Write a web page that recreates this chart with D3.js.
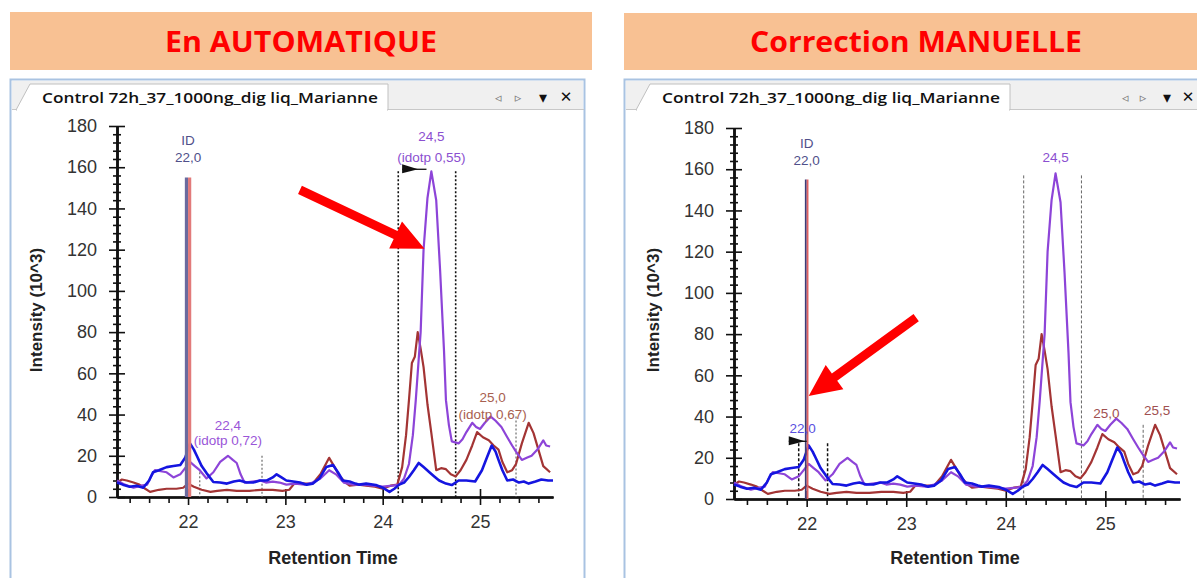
<!DOCTYPE html>
<meta charset="utf-8">
<style>
body { margin: 0; background: #fff; }
#chart { font-family: "Liberation Sans", Arial, sans-serif; }
</style>
<body>
<svg id="chart" width="1197" height="578"></svg>
<script src="https://d3js.org/d3.v7.min.js"></script>
<script>
// traces: [retention time, intensity (10^3)]
var blueTrace = [[21.27,7],[21.33,6],[21.40,5],[21.47,5.5],[21.54,4.5],[21.6,8],[21.64,12],[21.7,13],[21.78,14.5],[21.85,15],[21.92,15.5],[21.97,19],[22.02,26],[22.06,23],[22.09,20],[22.14,15],[22.19,11.6],[22.26,7.3],[22.33,7],[22.4,6.5],[22.47,7.5],[22.53,8],[22.6,7],[22.67,7],[22.74,8],[22.81,8],[22.87,9.5],[22.91,11],[22.96,9.5],[23.01,8],[23.08,7.5],[23.15,7],[23.22,6],[23.28,6.5],[23.35,9],[23.42,14.5],[23.49,15.5],[23.54,12],[23.59,8],[23.66,7.5],[23.72,6.5],[23.76,6],[23.83,6.5],[23.93,5.8],[24.0,4.5],[24.07,2.5],[24.12,4],[24.17,6],[24.22,7],[24.27,9.7],[24.32,13],[24.37,16.5],[24.42,14.5],[24.48,12],[24.53,10],[24.58,8],[24.65,6.5],[24.71,5.8],[24.78,8],[24.86,8],[24.95,7.5],[25.02,13],[25.07,19],[25.12,25],[25.16,22],[25.19,18],[25.23,13],[25.28,8],[25.34,8.5],[25.40,7],[25.45,7.5],[25.5,6.5],[25.57,7.5],[25.63,8.5],[25.7,8],[25.75,8]];
var purpleTrace = [[21.27,8],[21.35,6],[21.44,4.5],[21.52,5.5],[21.58,6],[21.62,10],[21.66,13],[21.72,12.5],[21.78,12],[21.85,9.5],[21.92,11],[21.97,14],[22.02,17],[22.07,15],[22.12,13],[22.19,9],[22.26,12],[22.33,17],[22.41,20],[22.46,18],[22.5,16.5],[22.54,11],[22.58,7],[22.66,7.5],[22.74,8],[22.8,7],[22.87,7.5],[22.94,7],[23.01,6],[23.1,6.5],[23.2,6],[23.28,7],[23.36,9],[23.45,13],[23.52,11],[23.6,7],[23.7,6],[23.8,6],[23.9,5.5],[24.0,5],[24.1,5.5],[24.17,6],[24.22,9],[24.27,16],[24.31,30],[24.34,47],[24.39,80],[24.42,120],[24.46,145],[24.5,158],[24.55,144],[24.59,110],[24.63,71],[24.65,47],[24.68,35],[24.71,27],[24.78,26],[24.82,28],[24.86,31.5],[24.92,36],[24.96,34],[25.0,33],[25.05,36],[25.11,39],[25.16,37],[25.22,34],[25.28,29],[25.33,25],[25.37,22],[25.43,18],[25.48,19],[25.53,20],[25.59,23],[25.65,27.5],[25.68,25],[25.72,24.5]];
var redTrace = [[21.27,7],[21.32,8.5],[21.37,8],[21.44,7],[21.5,6],[21.56,4],[21.61,2.5],[21.7,3.5],[21.78,4],[21.88,4],[21.95,4.5],[22.0,6.5],[22.06,5],[22.14,3.5],[22.23,2.5],[22.3,3],[22.4,3.5],[22.5,3],[22.63,3],[22.75,3.5],[22.87,3.5],[22.97,3],[23.04,3.5],[23.1,7],[23.2,6.5],[23.28,6.5],[23.36,11],[23.45,19],[23.5,15],[23.56,10],[23.62,7],[23.66,5.5],[23.75,6],[23.83,5.5],[23.92,5],[24.0,4],[24.08,5.5],[24.15,6],[24.2,14.5],[24.24,30],[24.27,47],[24.3,65],[24.33,68],[24.36,80],[24.39,72],[24.42,63],[24.46,45],[24.5,31],[24.55,13],[24.6,14],[24.65,13.5],[24.7,11],[24.75,10],[24.8,13],[24.86,18],[24.92,25],[24.97,31.5],[25.03,29],[25.09,27.5],[25.14,25],[25.19,23],[25.23,17],[25.28,12],[25.33,13],[25.37,16],[25.43,26],[25.5,36],[25.55,31],[25.6,23],[25.65,15],[25.72,12]];

var timeDomain = [21.27, 25.75];
var intensityDomain = [0, 180];
var xMajor = [22, 23, 24, 25];
var yMajor = [0, 20, 40, 60, 80, 100, 120, 140, 160, 180];

// identified peak (ID line) at 22.0, height
var idPeak = [22.0, 155];

// labels: [time, intensity, text]
var autoLabels = [
  [22.0, 173, "ID", "#50508a"], [22.0, 165, "22,0", "#50508a"],
  [24.5, 175, "24,5", "#8b4fd0"], [24.5, 165, "(idotp 0,55)", "#8b4fd0"],
  [22.41, 35, "22,4", "#9a55d8"], [22.41, 27.5, "(idotp 0,72)", "#9a55d8"],
  [25.13, 48.5, "25,0", "#a86050"], [25.13, 40.3, "(idotp 0,67)", "#a86050"]
];
var manualLabels = [
  [22.0, 172.7, "ID", "#50508a"], [22.0, 164.5, "22,0", "#50508a"],
  [24.5, 166, "24,5", "#8b4fd0"],
  [21.96, 34.5, "22,0", "#5a4fe0"],
  [25.01, 41.7, "25,0", "#a05050"],
  [25.52, 43, "25,5", "#a05050"]
];
// boundaries: [time, top intensity]
var autoBounds = [[24.16, 158], [24.75, 158], [22.12, 12], [22.76, 20], [25.37, 39]];
var manualBounds = [[24.18, 157], [24.76, 157], [21.92, 27], [22.21, 27], [25.38, 36]];
// peak flag: [time, intensity, peak time]
var autoFlag = [24.2, 159, 24.45];
var manualFlag = [21.82, 28, 22.0];
// red arrows: [start time, start int, tip time, tip int]
var autoArrow = [23.15, 149, 24.43, 120.5];
var manualArrow = [23.1, 88, 22.02, 50];

var svg = d3.select("#chart");

function arrowPoints(x1, y1, x2, y2, w, L, H) {
  var dx = x2 - x1, dy = y2 - y1, len = Math.sqrt(dx*dx + dy*dy);
  var ux = dx/len, uy = dy/len, nx = -uy, ny = ux;
  var bx = x2 - ux*L, by = y2 - uy*L;
  return [
    [x1 + nx*w/2, y1 + ny*w/2], [bx + nx*w/2, by + ny*w/2], [bx + nx*H/2, by + ny*H/2],
    [x2, y2], [bx - nx*H/2, by - ny*H/2], [bx - nx*w/2, by - ny*w/2], [x1 - nx*w/2, y1 - ny*w/2]
  ].map(function(p){ return p.join(","); }).join(" ");
}

function drawPanel(c) {
  var g = svg.append("g");
  // header
  g.append("rect").attr("x", c.box[0]).attr("y", c.box[1]).attr("width", c.box[2]).attr("height", c.box[3]).attr("fill", "#f8c193");
  g.append("text").attr("x", c.titleX).attr("y", 42).attr("dy", "0.36em").attr("text-anchor", "middle")
    .attr("fill", "#ff0000").attr("font-size", 28).attr("font-weight", "bold")
    .attr("font-family", "'Open Sans', sans-serif")
    .attr("textLength", c.titleLen).attr("lengthAdjust", "spacingAndGlyphs").text(c.title);
  // window frame
  g.append("rect").attr("x", c.frame[0] + 0.5).attr("y", 79.5).attr("width", c.frame[1]).attr("height", 520)
    .attr("fill", "#fff").attr("stroke", "#a9c3e2").attr("stroke-width", 2);
  g.append("rect").attr("x", c.frame[0] + 2).attr("y", 81).attr("width", c.frame[1] - 3).attr("height", 28).attr("fill", "#f0f0f0");
  g.append("line").attr("x1", c.frame[0] + 2).attr("x2", c.frame[0] + c.frame[1]).attr("y1", 109.5).attr("y2", 109.5).attr("stroke", "#c8c8c8");
  g.append("path").attr("d", "M" + (c.tab[0] - 14) + ",110 L" + c.tab[0] + ",84 L" + c.tab[1] + ",84 L" + c.tab[1] + ",110 Z")
    .attr("fill", "#fff").attr("stroke", "#c0c0c0");
  g.append("rect").attr("x", c.tab[0] - 13).attr("y", 109).attr("width", c.tab[1] - c.tab[0] + 12).attr("height", 3).attr("fill", "#fff");
  g.append("text").attr("x", c.tab[0] + 12).attr("y", 103).attr("font-size", 15).attr("fill", "#111")
    .attr("font-family", "'Open Sans', sans-serif").attr("font-weight", 600)
    .attr("textLength", c.tab[1] - c.tab[0] - 22).attr("lengthAdjust", "spacingAndGlyphs")
    .text("Control 72h_37_1000ng_dig liq_Marianne");
  var icons = [["\u25C3", "#777", 13], ["\u25B9", "#777", 13], ["\u25BE", "#111", 16], ["\u2715", "#111", 15]];
  icons.forEach(function(ic, i) {
    g.append("text").attr("x", c.iconX[i]).attr("y", 97).attr("dy", "0.36em").attr("text-anchor", "middle")
      .attr("font-family", "'DejaVu Sans', sans-serif").attr("fill", ic[1]).attr("font-size", ic[2]).text(ic[0]);
  });

  var x = d3.scaleLinear().domain(timeDomain).range([c.plot.left, c.plot.right]);
  var y = d3.scaleLinear().domain(intensityDomain).range([c.plot.bottom, c.plot.top]);

  // axes
  var minorX = d3.range(21.4, 25.75, 0.2).filter(function(v){ return Math.abs(v - Math.round(v)) > 0.05; });
  var minorY = d3.range(4, 180, 4).filter(function(v){ return v % 20 !== 0; });
  var ax = g.append("g").attr("transform", "translate(0," + c.plot.bottom + ")");
  ax.call(d3.axisBottom(x).tickValues(minorX).tickSize(6).tickFormat("").tickSizeOuter(0));
  ax.append("g").call(d3.axisTop(x).tickValues(xMajor).tickSize(8).tickFormat("").tickSizeOuter(0));
  ax.append("g").call(d3.axisBottom(x).tickValues(xMajor).tickSize(8).tickPadding(10).tickFormat(d3.format("d")).tickSizeOuter(0));
  var ay = g.append("g").attr("transform", "translate(" + c.plot.left + ",0)");
  ay.call(d3.axisLeft(y).tickValues(minorY).tickSize(4).tickFormat("").tickSizeOuter(0));
  ay.append("g").call(d3.axisRight(y).tickValues(minorY).tickSize(4).tickFormat("").tickSizeOuter(0));
  ay.append("g").call(d3.axisRight(y).tickValues(yMajor).tickSize(8).tickFormat("").tickSizeOuter(0));
  ay.append("g").call(d3.axisLeft(y).tickValues(yMajor).tickSize(8).tickPadding(12).tickSizeOuter(0));
  g.selectAll(".domain").attr("stroke", "#111").attr("stroke-width", 2);
  g.selectAll(".tick line").attr("stroke", "#111").attr("stroke-width", 1.6);
  g.selectAll(".tick text").attr("font-size", 18).attr("fill", "#333").attr("font-family", "'Liberation Sans', Arial, sans-serif");

  g.append("text").attr("transform", "translate(" + (c.plot.left - 81) + "," + 310 + ") rotate(-90)")
    .attr("text-anchor", "middle").attr("dy", "0.36em").attr("font-size", 17).attr("font-weight", "bold").attr("fill", "#222")
    .text("Intensity (10^3)");
  g.append("text").attr("x", (c.plot.left + c.plot.right) / 2 - 2).attr("y", 558).attr("dy", "0.36em")
    .attr("text-anchor", "middle").attr("font-size", 18).attr("font-weight", "bold").attr("fill", "#222")
    .text("Retention Time");

  // peak boundaries
  c.bounds.forEach(function(b, i) {
    var s = c.boundStyle(i);
    g.append("line").attr("x1", x(b[0])).attr("x2", x(b[0])).attr("y1", y(b[1])).attr("y2", y(0))
      .attr("stroke", s[0]).attr("stroke-width", s[1]).attr("stroke-dasharray", s[2]);
  });

  // traces
  var line = d3.line().x(function(d){ return x(d[0]); }).y(function(d){ return y(d[1]); });
  [[redTrace, "#a33434", 2.2], [purpleTrace, "#8d44d8", 2.2], [blueTrace, "#1515e0", 2.6]].forEach(function(t) {
    g.append("path").datum(t[0]).attr("d", line).attr("fill", "none").attr("stroke", t[1])
      .attr("stroke-width", t[2]).attr("stroke-linejoin", "round");
  });

  // ID line
  g.append("line").attr("x1", x(idPeak[0]) - c.idW / 2).attr("x2", x(idPeak[0]) - c.idW / 2)
    .attr("y1", y(idPeak[1])).attr("y2", y(0)).attr("stroke", c.idColors[0]).attr("stroke-width", c.idW);
  g.append("line").attr("x1", x(idPeak[0]) + c.idW / 2).attr("x2", x(idPeak[0]) + c.idW / 2)
    .attr("y1", y(idPeak[1])).attr("y2", y(0)).attr("stroke", c.idColors[1]).attr("stroke-width", c.idW);

  // flag
  var fx = x(c.flag[0]), fy = y(c.flag[1]);
  g.append("line").attr("x1", fx).attr("x2", x(c.flag[2])).attr("y1", fy).attr("y2", fy).attr("stroke", "#111").attr("stroke-width", 1.3);
  g.append("path").attr("d", "M" + fx + "," + (fy - 5) + " L" + (fx + 16) + "," + fy + " L" + fx + "," + (fy + 4) + " Z").attr("fill", "#111");

  // labels
  c.labels.forEach(function(l) {
    g.append("text").attr("x", x(l[0])).attr("y", y(l[1])).attr("dy", "0.36em").attr("text-anchor", "middle")
      .attr("font-size", 13.5).attr("fill", l[3]).text(l[2]);
  });

  // red arrow
  var a = c.arrow;
  g.append("polygon").attr("points", arrowPoints(x(a[0]), y(a[1]), x(a[2]), y(a[3]), 9, 32, 30)).attr("fill", "#ff0000");
}

drawPanel({
  title: "En AUTOMATIQUE", titleX: 301, titleLen: 272, box: [10, 12, 582, 58],
  frame: [10, 574], tab: [30, 388], iconX: [498, 518, 543, 566],
  plot: { left: 117, right: 553, top: 126, bottom: 497 },
  bounds: autoBounds,
  boundStyle: function(i){ return i < 2 ? ["#111", 1.6, "2,2"] : ["#777", 1.3, "2,2"]; },
  idW: 3.2, idColors: ["#6a6a9e", "#e27a7a"],
  flag: autoFlag, labels: autoLabels, arrow: autoArrow
});
drawPanel({
  title: "Correction MANUELLE", titleX: 916, titleLen: 332, box: [624, 13, 580, 57],
  frame: [624, 600], tab: [650, 1010], iconX: [1125, 1143, 1167, 1188],
  plot: { left: 734, right: 1180, top: 128, bottom: 499 },
  bounds: manualBounds,
  boundStyle: function(i){ return (i === 2 || i === 3) ? ["#111", 1.5, "3,2"] : ["#666", 1, "3,2"]; },
  idW: 1.8, idColors: ["#3c3c78", "#e06060"],
  flag: manualFlag, labels: manualLabels, arrow: manualArrow
});
</script>
</body>
